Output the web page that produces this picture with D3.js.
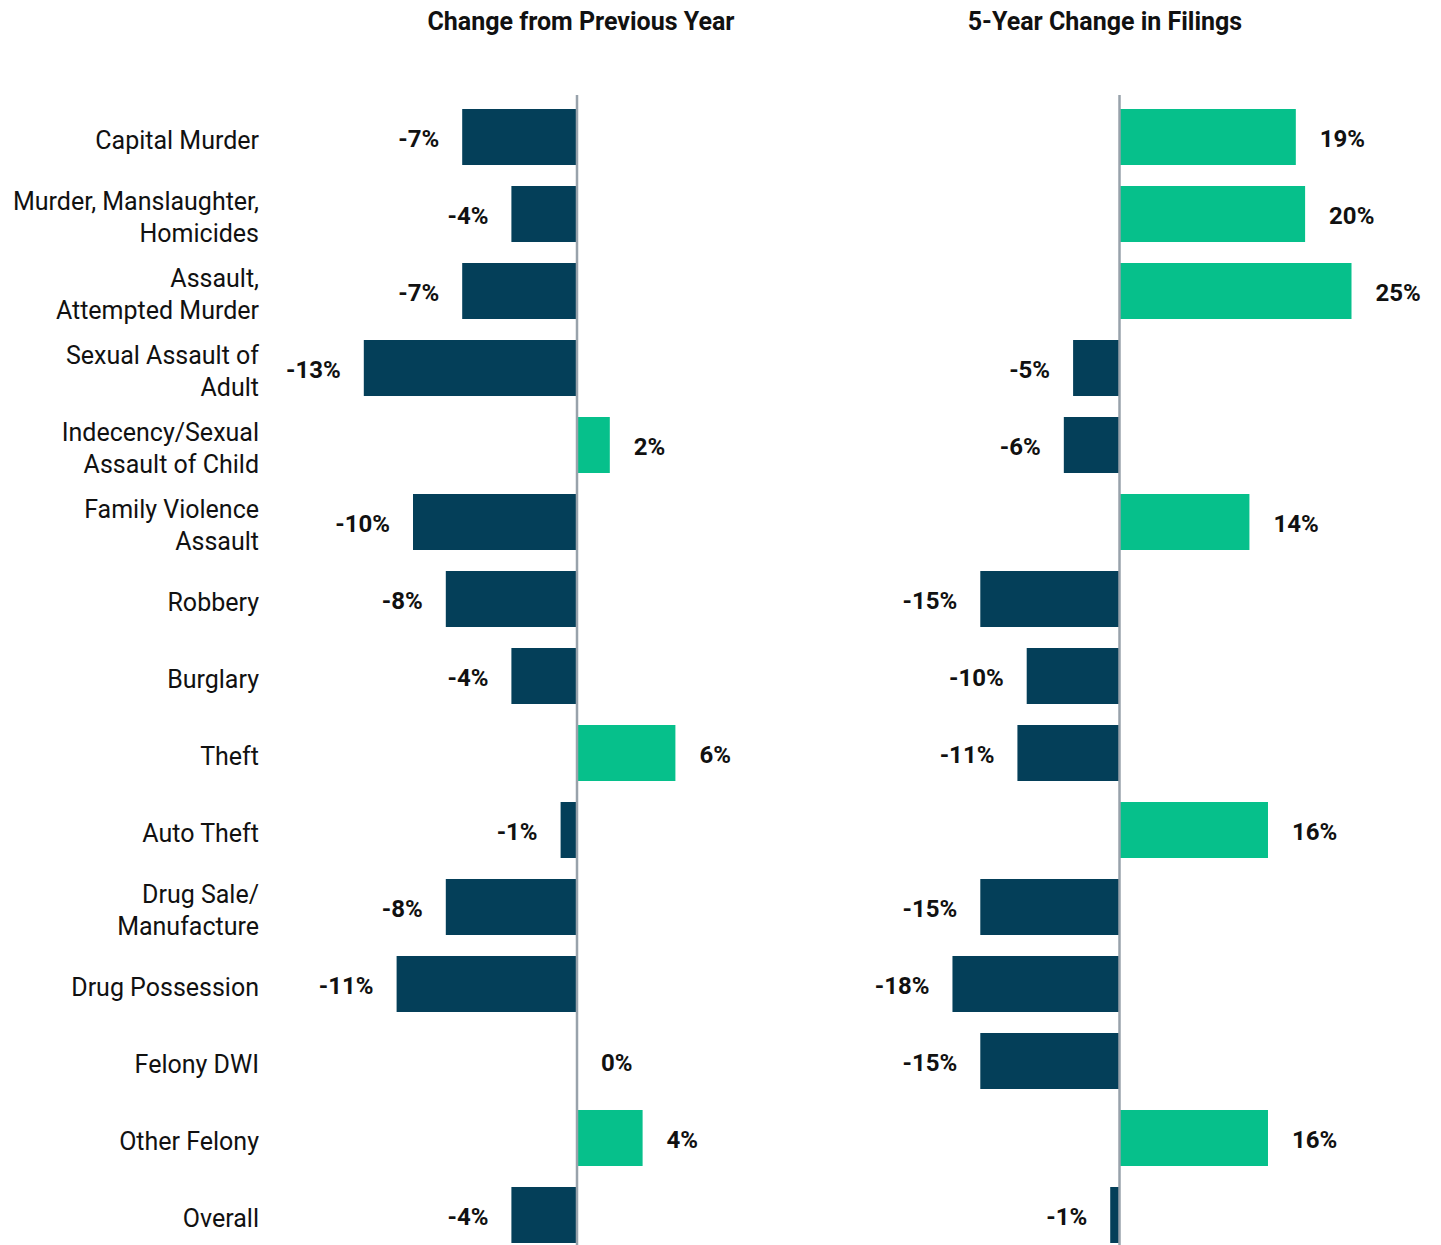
<!DOCTYPE html>
<html>
<head>
<meta charset="utf-8">
<script src="https://cdn.jsdelivr.net/npm/d3@7"></script>
<style>
  body { margin: 0; background: #fff; }
  svg text { font-family: Roboto, "Liberation Sans", sans-serif; fill: #111; }
</style>
</head>
<body>
<div id="chart"></div>
<script>
// categories (line breaks as in the original labels)
var categories = [
  "Capital Murder",
  "Murder, Manslaughter,|Homicides",
  "Assault,|Attempted Murder",
  "Sexual Assault of|Adult",
  "Indecency/Sexual|Assault of Child",
  "Family Violence|Assault",
  "Robbery",
  "Burglary",
  "Theft",
  "Auto Theft",
  "Drug Sale/|Manufacture",
  "Drug Possession",
  "Felony DWI",
  "Other Felony",
  "Overall"
];

var panelTitles = ["Change from Previous Year", "5-Year Change in Filings"];

var prevYear = [-7, -4, -7, -13, 2, -10, -8, -4, 6, -1, -8, -11, 0, 4, -4];
var fiveYear = [19, 20, 25, -5, -6, 14, -15, -10, -11, 16, -15, -18, -15, 16, -1];

var navy = "#043f59", green = "#06c08b", lineGray = "#98a2ab";

var width = 1441, height = 1245;

var svg = d3.select("#chart").append("svg")
    .attr("width", width)
    .attr("height", height);

var y = d3.scaleBand()
    .domain(categories)
    .range([98.5, 98.5 + 15 * 77])
    .paddingInner(0.2727)
    .paddingOuter(0.1364);

// left panel scale (~16.4px per point), right panel (~9.28px per point)
var xL = d3.scaleLinear().domain([-13, 6]).range([577 - 13 * 16.4, 577 + 6 * 16.4]);
var xR = d3.scaleLinear().domain([-18, 25]).range([1119.5 - 18 * 9.28, 1119.5 + 25 * 9.28]);

// category labels
var labels = svg.append("g").selectAll("text")
    .data(categories)
    .enter()
    .append("text")
    .attr("text-anchor", "end")
    .style("font-size", "25px")
    .attr("transform", function(d) { return "translate(259," + (y(d) + y.bandwidth() / 2) + ")"; });

labels.each(function(d) {
    var lines = d.split("|");
    var t = d3.select(this);
    lines.forEach(function(line, i) {
        t.append("tspan")
            .attr("x", 0)
            .attr("y", (i - (lines.length - 1) / 2) * 32 + 3)
            .attr("dy", "0.35em")
            .text(line);
    });
});

function drawPanel(values, x, title, titleX) {
    var g = svg.append("g");
    var data = categories.map(function(c, i) { return { cat: c, v: values[i] }; });

    g.append("text")
        .attr("x", titleX)
        .attr("y", 21)
        .attr("dy", "0.35em")
        .attr("text-anchor", "middle")
        .style("font-size", "25px")
        .style("font-weight", "bold")
        .text(title);

    g.selectAll("rect")
        .data(data)
        .enter()
        .append("rect")
        .attr("x", function(d) { return Math.min(x(0), x(d.v)); })
        .attr("y", function(d) { return y(d.cat); })
        .attr("width", function(d) { return Math.abs(x(d.v) - x(0)); })
        .attr("height", y.bandwidth())
        .attr("fill", function(d) { return d.v > 0 ? green : navy; });

    g.append("line")
        .attr("x1", x(0)).attr("x2", x(0))
        .attr("y1", 95).attr("y2", height)
        .attr("stroke", lineGray)
        .attr("stroke-width", 2.5);

    g.selectAll("text.val")
        .data(data)
        .enter()
        .append("text")
        .attr("class", "val")
        .attr("x", function(d) { return d.v >= 0 ? x(d.v) + 24 : x(d.v) - 23; })
        .attr("y", function(d) { return y(d.cat) + y.bandwidth() / 2 + 2; })
        .attr("dy", "0.35em")
        .attr("text-anchor", function(d) { return d.v >= 0 ? "start" : "end"; })
        .style("font-size", "24px")
        .style("font-weight", "bold")
        .text(function(d) { return d.v + "%"; });
}

drawPanel(prevYear, xL, panelTitles[0], 581);
drawPanel(fiveYear, xR, panelTitles[1], 1105);
</script>
</body>
</html>
